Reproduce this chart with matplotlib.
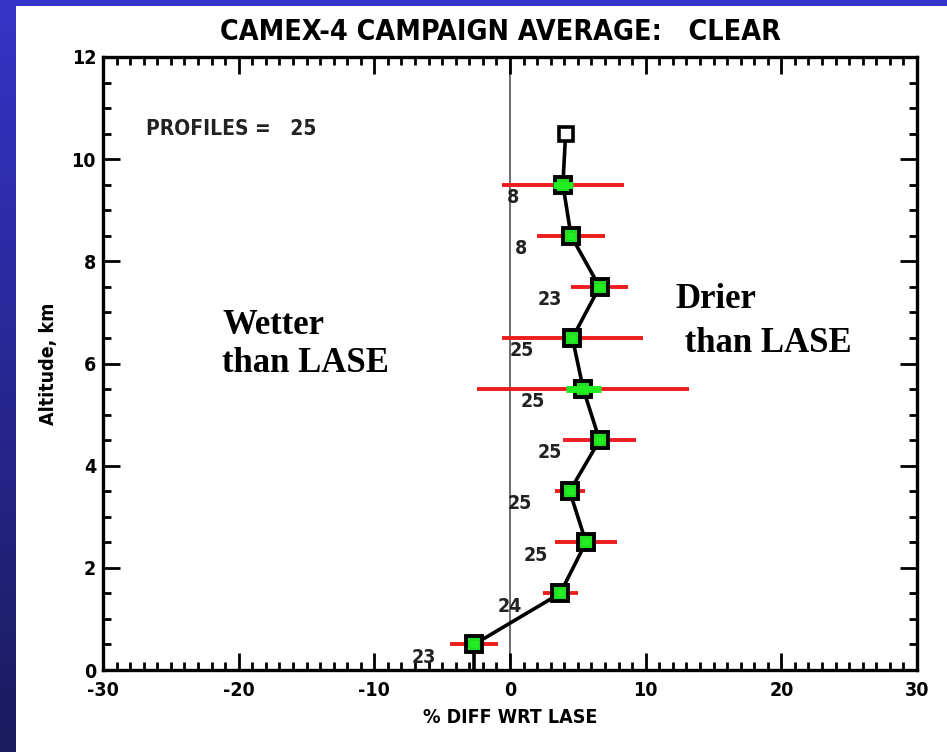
import numpy as np
import matplotlib
matplotlib.use("Agg")
import matplotlib.pyplot as plt
from matplotlib.ticker import MultipleLocator

# Campaign-average sonde minus LASE differences, per 1-km altitude bin
altitude_km = [10.5, 9.5, 8.5, 7.5, 6.5, 5.5, 4.5, 3.5, 2.5, 1.5, 0.5]
mean_diff = [4.1, 3.9, 4.5, 6.6, 4.6, 5.4, 6.6, 4.4, 5.6, 3.7, -2.65]
std_diff = [np.nan, 4.5, 2.5, 2.1, 5.2, 7.8, 2.7, 1.1, 2.3, 1.3, 1.8]
sem_diff = [np.nan, 0.75, 0.3, 0.3, 0.3, 1.3, 0.3, 0.3, 0.3, 0.3, 0.3]
n_points = [0, 8, 8, 23, 25, 25, 25, 25, 25, 24, 23]
n_profiles = 25

title_text = "CAMEX-4 CAMPAIGN AVERAGE:   CLEAR"
xlabel_text = "% DIFF WRT LASE"
ylabel_text = "Altitude, km"
xticks = [-30, -20, -10, 0, 10, 20, 30]
yticks = [0, 2, 4, 6, 8, 10, 12]

plt.rcParams["axes.unicode_minus"] = False
sans = dict(family="DejaVu Sans", fontstretch="condensed", fontweight="bold")
serif = "Liberation Serif"

fig = plt.figure(figsize=(9.47, 7.52), dpi=100)
fig.patch.set_facecolor("white")

# slide-style blue border: gradient strip on the left, flat band on top
band = fig.add_axes([0, 0, 16 / 947, 1])
grad = np.linspace(0, 1, 256).reshape(-1, 1)
cmap = matplotlib.colors.LinearSegmentedColormap.from_list("b", ["#3434c8", "#1b1b5e"])
band.imshow(grad, aspect="auto", cmap=cmap, extent=[0, 1, 0, 1], origin="upper")
band.set_axis_off()
top = fig.add_axes([0, 1 - 6 / 752, 1, 6 / 752])
top.set_facecolor("#3434c8")
top.set_xticks([]); top.set_yticks([])
for s in top.spines.values():
    s.set_visible(False)

ax = fig.add_axes([103 / 947, 82 / 752, 814 / 947, 613 / 752])
ax.set_xlim(-30, 30)
ax.set_ylim(0, 12)

x = np.array(mean_diff)
y = np.array(altitude_km)
sd = np.array(std_diff)
se = np.array(sem_diff)

ax.axvline(0, color="#555555", lw=1.2, zorder=1)

ax.hlines(y, x - sd, x + sd, color="#ee1c1c", lw=2.8, zorder=2)
ax.plot(x, y, color="black", lw=2.6, zorder=3)
ax.plot([x[-1], x[-1]], [y[-1], 0], color="black", lw=2.6, zorder=3)
ax.plot(x[1:], y[1:], ls="none", marker="s", ms=12, mfc="#22dd22", mec="black", mew=2.8, zorder=4)
ax.plot(x[:1], y[:1], ls="none", marker="s", ms=10, mfc="white", mec="black", mew=2.6, zorder=4)
ax.hlines(y, x - se, x + se, color="#22ee22", lw=5, zorder=5)

for xi, yi, n in zip(x, y, n_points):
    if n > 0:
        ax.text(xi - 3.7, yi - 0.25, str(n), ha="center", va="center",
                fontsize=14, color="#222222", **sans)

ax.text(-26.8, 10.59, f"PROFILES =   {n_profiles}", ha="left", va="center",
        fontsize=15, color="#222222", **sans)

ax.text(-21.2, 6.75, "Wetter", ha="left", va="center", fontsize=25,
        fontweight="bold", family=serif)
ax.text(-21.2, 6.0, "than LASE", ha="left", va="center", fontsize=25,
        fontweight="bold", family=serif)
ax.text(12.2, 7.25, "Drier", ha="left", va="center", fontsize=25,
        fontweight="bold", family=serif)
ax.text(12.2, 6.4, " than LASE", ha="left", va="center", fontsize=25,
        fontweight="bold", family=serif)

ax.set_title(title_text, fontsize=20.5, pad=12, x=0.488, **sans)
ax.set_xlabel(xlabel_text, fontsize=14, labelpad=6, **sans)
ax.set_ylabel(ylabel_text, fontsize=14, labelpad=10, **sans)

ax.set_xticks(xticks)
ax.set_yticks(yticks)
ax.xaxis.set_minor_locator(MultipleLocator(1))
ax.yaxis.set_minor_locator(MultipleLocator(0.5))
ax.tick_params(which="both", direction="in", top=True, right=True, width=2)
ax.tick_params(which="major", length=12, labelsize=14)
ax.tick_params(axis="x", which="major", pad=8)
ax.tick_params(axis="y", which="major", pad=5)
ax.tick_params(which="minor", length=6)
for lab in ax.get_xticklabels() + ax.get_yticklabels():
    lab.set_fontweight("bold")
    lab.set_family("DejaVu Sans")
    lab.set_fontstretch("condensed")
for s in ax.spines.values():
    s.set_linewidth(2.4)

fig.savefig("out.png", dpi=100, facecolor="white")
